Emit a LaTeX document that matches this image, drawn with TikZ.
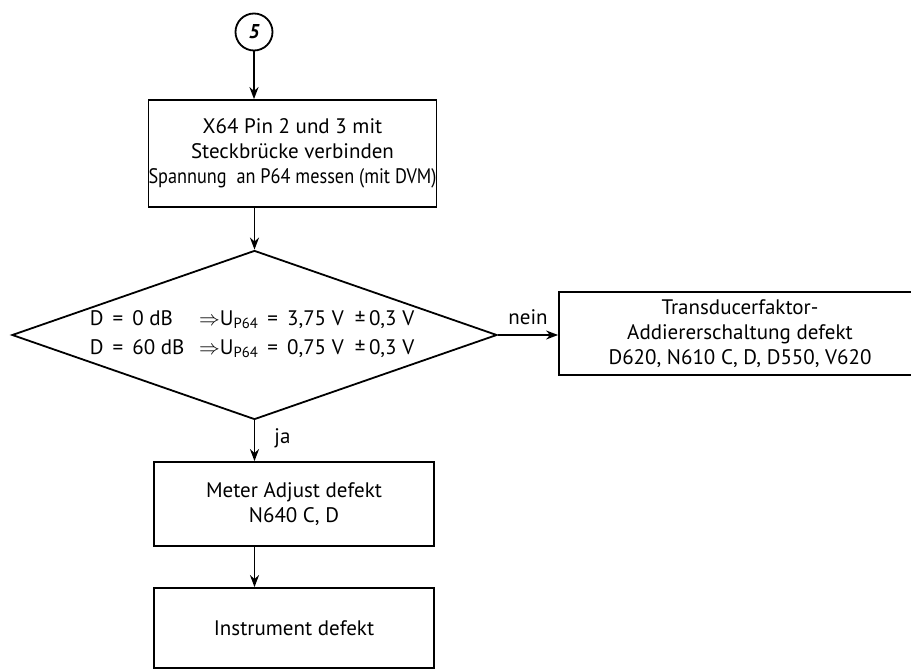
\documentclass[tikz,border=0pt]{standalone}
\usepackage{fontspec}
\setmainfont{PT Sans}
\usetikzlibrary{shapes.geometric,arrows.meta}
\begin{document}
\begin{tikzpicture}[x=1pt,y=-1pt,
  every node/.style={font=\fontsize{21}{25}\selectfont},
  arr/.style={line width=1.8pt,-{Stealth[length=12pt,width=9pt]}},
  box/.style={draw,line width=1.8pt,align=center,inner sep=0pt},
  lbl/.style={inner sep=1pt}]
\useasboundingbox (0,0) rectangle (911,671);
\clip (0,0) rectangle (911,671);
\node[draw,circle,line width=1.8pt,minimum size=37pt,inner sep=0pt,font=\fontsize{20}{22}\selectfont\bfseries\itshape] (c5) at (254,32) {5};
\node[box,minimum width=277pt,minimum height=107pt] (b1) at (292.5,153.5)
  {X64 Pin 2 und 3 mit\\Steckbrücke verbinden\\\scalebox{0.87}[1]{Spannung\ \ an P64 messen (mit DVM)}};
\node[draw,diamond,line width=1.8pt,minimum width=485pt,minimum height=169pt,inner sep=0pt,aspect=2.87] (d) at (254.5,335) {};
\node[inner sep=0pt,font=\fontsize{21}{28}\selectfont] (dt) at (252,334) {\begin{tabular}{@{}l@{\ \ \,}l@{}}
  D\ \,=\ \,0 dB & $\Rightarrow$U\textsubscript{P64}\ \,=\ \,3,75 V\ \ ±\,0,3 V\\[1pt]
  D\ \,=\ \,60 dB & $\Rightarrow$U\textsubscript{P64}\ \,=\ \,0,75 V\ \ ±\,0,3 V
\end{tabular}};
\node[box,minimum width=362pt,minimum height=83pt] (r) at (740,333.5)
  {Transducerfaktor-\\Addiererschaltung defekt\\D620, N610 C, D, D550, V620};
\node[box,minimum width=280pt,minimum height=84pt] (b3) at (294,504)
  {Meter Adjust defekt\\N640 C, D};
\node[box,minimum width=280pt,minimum height=80pt] (b4) at (294,628)
  {Instrument defekt};
\draw[arr] (c5) -- (c5 |- b1.north);
\draw[arr] (d.north |- b1.south) -- (d.north);
\draw[arr] (d.east) -- node[lbl,above,yshift=8pt] {nein} (d.east -| r.west);
\draw[arr] (d.south) -- node[lbl,right,xshift=18pt,yshift=2pt] {ja} (d.south |- b3.north);
\draw[arr] (d.south |- b3.south) -- (d.south |- b4.north);
\end{tikzpicture}
\end{document}
